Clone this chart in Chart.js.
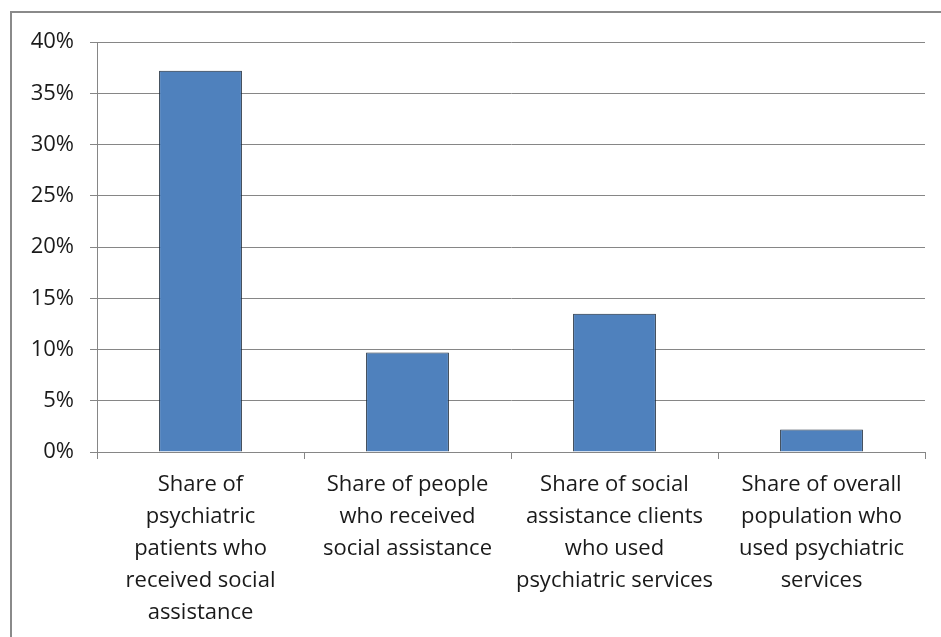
<!DOCTYPE html>
<html>
<head>
<meta charset="utf-8">
<script src="https://cdn.jsdelivr.net/npm/chart.js@4"></script>
<style>
  html, body { margin: 0; padding: 0; background: #fff; }
  #wrap { position: relative; width: 941px; height: 637px; overflow: hidden; }
  #frame { position: absolute; left: 10px; top: 11px; width: 960px; height: 660px; border: 2px solid #8a8a8a; box-sizing: border-box; }
  canvas { position: absolute; left: 0; top: 0; }
</style>
</head>
<body>
<div id="wrap">
  <div id="frame"></div>
  <canvas id="shareChart" width="941" height="637"></canvas>
</div>
<script>
// Categories (multi-line labels) and values in percent
const categories = [
  ["Share of", "psychiatric", "patients who", "received social", "assistance"],
  ["Share of people", "who received", "social assistance"],
  ["Share of social", "assistance clients", "who used", "psychiatric services"],
  ["Share of overall", "population who", "used psychiatric", "services"]
];
const shareValues = [37.2, 9.7, 13.5, 2.2];

const ctx = document.getElementById('shareChart').getContext('2d');

new Chart(ctx, {
  type: "bar",
  data: {
    labels: categories,
    datasets: [{
      data: shareValues,
      backgroundColor: "#4f81bd",
      borderColor: "#1c2a3a",
      borderWidth: 1,
      borderSkipped: "bottom",
      barPercentage: 0.4,
      categoryPercentage: 1.0
    }]
  },
  options: {
    responsive: false,
    animation: false,
    layout: { padding: { top: 42, right: 16, left: 0, bottom: 0 } },
    plugins: {
      legend: { display: false },
      tooltip: { enabled: false }
    },
    scales: {
      x: {
        offset: true,
        border: { color: "#868686", width: 1 },
        grid: { offset: true, drawOnChartArea: false, drawTicks: true, tickLength: 7, color: "#868686" },
        ticks: {
          color: "#1a1a1a",
          font: { family: "'Open Sans', sans-serif", size: 22, lineHeight: "32px" },
          maxRotation: 0,
          autoSkip: false,
          padding: 10
        },
        afterFit: (scale) => { scale.height = 185; }
      },
      y: {
        min: 0,
        max: 40,
        border: { color: "#868686", width: 1 },
        grid: { color: "#868686", tickLength: 7 },
        ticks: {
          stepSize: 5,
          color: "#1a1a1a",
          font: { family: "'Open Sans', sans-serif", size: 22 },
          padding: 16,
          callback: (v) => v + "%"
        },
        afterFit: (scale) => { scale.width = 97; }
      }
    }
  }
});
</script>
</body>
</html>
